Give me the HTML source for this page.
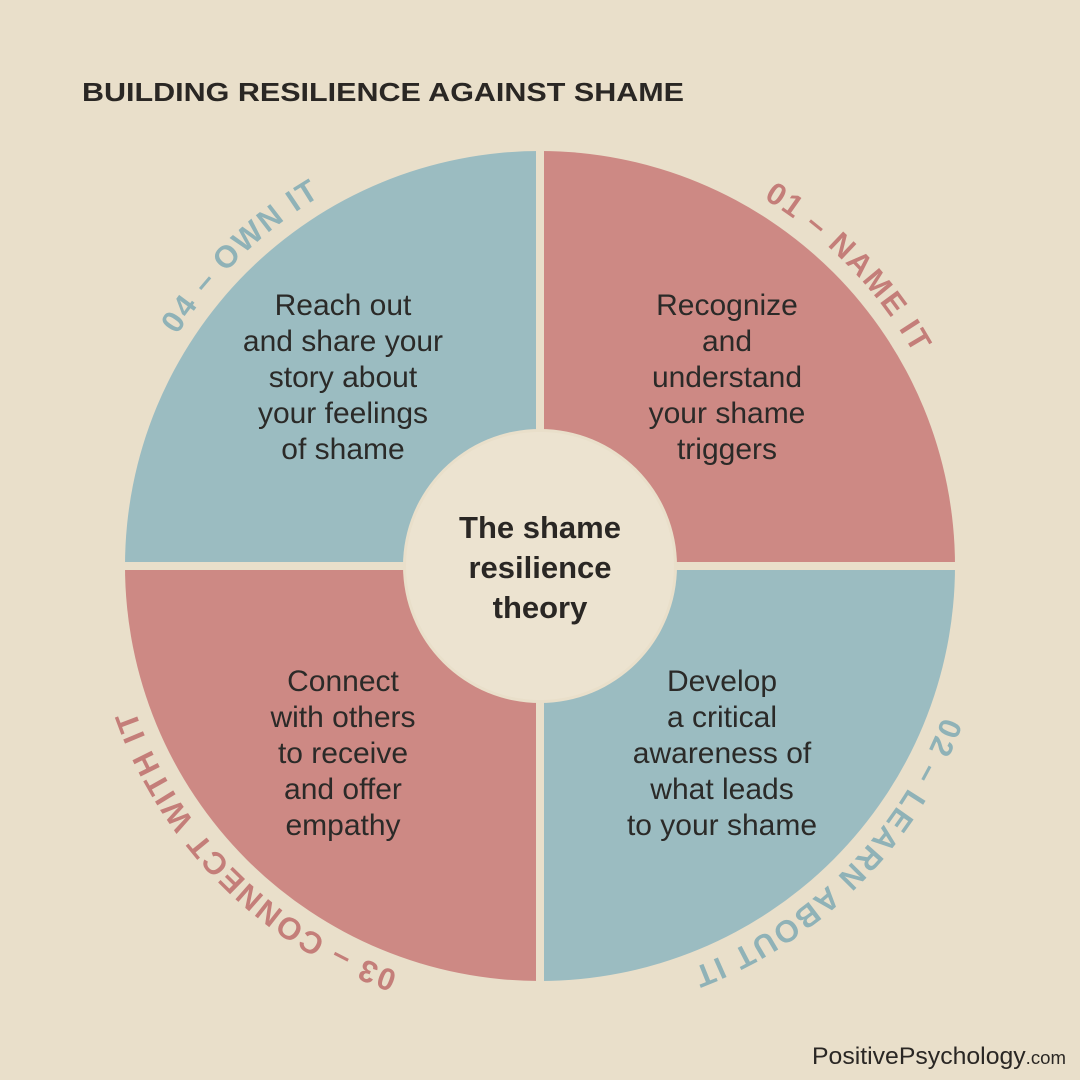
<!DOCTYPE html>
<html><head><meta charset="utf-8"><style>
html,body{margin:0;padding:0;background:#e9dfca;}
svg{display:block}
text{font-family:"Liberation Sans","DejaVu Sans",sans-serif;}
</style></head><body>
<svg id="s" width="1080" height="1080" viewBox="0 0 1080 1080" xmlns="http://www.w3.org/2000/svg">
<rect width="1080" height="1080" fill="#e9dfca"/>
<text x="82" y="101" font-size="26" font-weight="bold" fill="#2a2724" textLength="602" lengthAdjust="spacingAndGlyphs">BUILDING RESILIENCE AGAINST SHAME</text>
<g>
<path d="M540,566 L540,151 A415,415 0 0 1 955,566 Z" fill="#cd8984"/>
<path d="M540,566 L955,566 A415,415 0 0 1 540,981 Z" fill="#9bbcc1"/>
<path d="M540,566 L540,981 A415,415 0 0 1 125,566 Z" fill="#cd8984"/>
<path d="M540,566 L125,566 A415,415 0 0 1 540,151 Z" fill="#9bbcc1"/>
<rect x="536" y="140" width="8" height="850" fill="#e9dfca"/>
<rect x="115" y="562" width="850" height="8" fill="#e9dfca"/>
<circle cx="540" cy="566" r="137" fill="#e9dfca"/>
<circle cx="540" cy="566" r="134" fill="#ece3d0"/>
</g>
<g font-size="30" fill="#2b2a28" text-anchor="middle">
<text x="727" y="315">Recognize</text>
<text x="727" y="351">and</text>
<text x="727" y="387">understand</text>
<text x="727" y="423">your shame</text>
<text x="727" y="459">triggers</text>
<text x="343" y="315">Reach out</text>
<text x="343" y="351">and share your</text>
<text x="343" y="387">story about</text>
<text x="343" y="423">your feelings</text>
<text x="343" y="459">of shame</text>
<text x="343" y="691">Connect</text>
<text x="343" y="727">with others</text>
<text x="343" y="763">to receive</text>
<text x="343" y="799">and offer</text>
<text x="343" y="835">empathy</text>
<text x="722" y="691">Develop</text>
<text x="722" y="727">a critical</text>
<text x="722" y="763">awareness of</text>
<text x="722" y="799">what leads</text>
<text x="722" y="835">to your shame</text>
</g>
<g font-size="31" font-weight="bold" fill="#2a2724" text-anchor="middle">
<text x="540" y="538">The shame</text>
<text x="540" y="578">resilience</text>
<text x="540" y="618">theory</text>
</g>
<defs id="d"></defs>
<g id="labels" font-size="31" font-weight="bold" text-anchor="middle" letter-spacing="2"></g>
<text x="812" y="1064" font-size="24" fill="#2a2724" textLength="254" lengthAdjust="spacingAndGlyphs">PositivePsychology<tspan font-size="18">.com</tspan></text>
</svg>
<script>
var cx=540,cy=566,r=430;
var L=[["01 – NAME IT",46,"#c47e79"],["02 – LEARN ABOUT IT",135,"#8fb2b7"],["03 – CONNECT WITH IT",225,"#c47e79"],["04 – OWN IT",316,"#8fb2b7"]];
var ns="http://www.w3.org/2000/svg",d=document.getElementById("d"),g=document.getElementById("labels");
function pt(a){a=a*Math.PI/180;return [cx+r*Math.sin(a),cy-r*Math.cos(a)];}
L.forEach(function(l,i){
 var p1=pt(l[1]-70),p2=pt(l[1]+70);
 var p=document.createElementNS(ns,"path");
 p.setAttribute("id","a"+i);
 p.setAttribute("d","M"+p1[0]+","+p1[1]+" A"+r+","+r+" 0 0 1 "+p2[0]+","+p2[1]);
 d.appendChild(p);
 var t=document.createElementNS(ns,"text");t.setAttribute("fill",l[2]);
 var tp=document.createElementNS(ns,"textPath");
 tp.setAttribute("href","#a"+i);tp.setAttribute("startOffset","50%");
 tp.textContent=l[0];t.appendChild(tp);g.appendChild(t);
});
</script>
</body></html>
